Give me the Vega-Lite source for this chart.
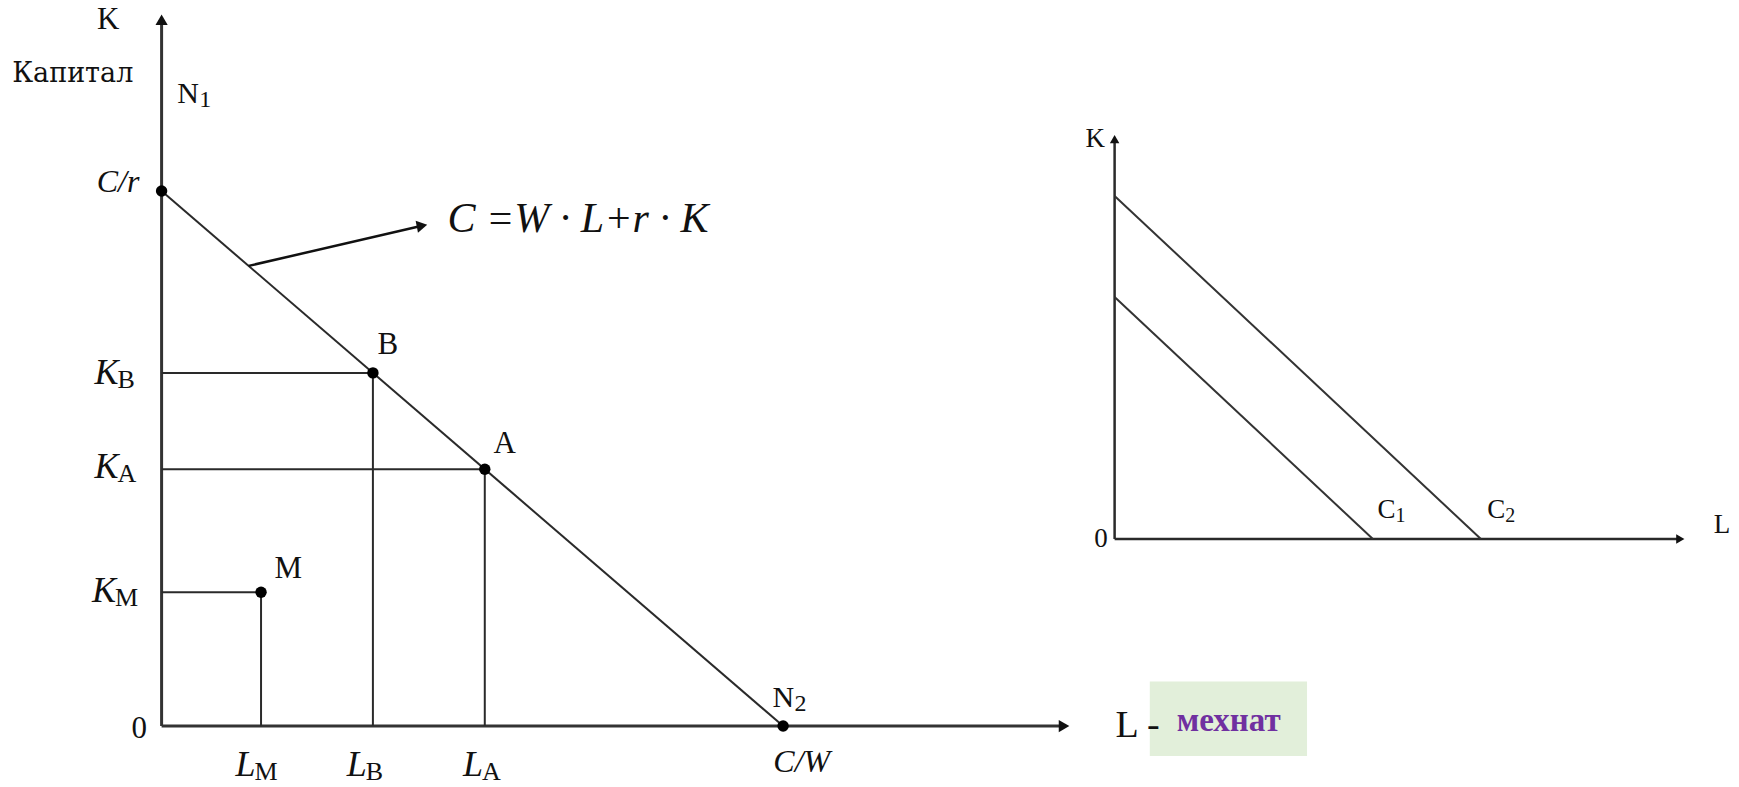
{
  "$schema": "https://vega.github.io/schema/vega-lite/v6.json",
  "autosize": {"type": "fit", "contains": "padding"},
  "width": 1739,
  "height": 787,
  "padding": 0,
  "background": "#ffffff",
  "config": {"view": {"stroke": null}, "axis": {"disable": true}, "text": {"font": "Liberation Serif", "color": "#111111"}},
  "datasets": {
    "box": [{"L": 15.9, "L2": 18.43, "K": -0.56, "K2": 0.83}],
    "leftAxes": [{"L": 0, "K": 0, "L2": 0, "K2": 13.2}, {"L": 0, "K": 0, "L2": 14.52, "K2": 0}],
    "leftLines": [
      {"L": 0, "K": 10, "L2": 10, "K2": 0},
      {"L": 0, "K": 6.6, "L2": 3.4, "K2": 6.6},
      {"L": 3.4, "K": 6.6, "L2": 3.4, "K2": 0},
      {"L": 0, "K": 4.8, "L2": 5.2, "K2": 4.8},
      {"L": 5.2, "K": 4.8, "L2": 5.2, "K2": 0},
      {"L": 0, "K": 2.5, "L2": 1.6, "K2": 2.5},
      {"L": 1.6, "K": 2.5, "L2": 1.6, "K2": 0}
    ],
    "pointer": [{"L": 1.4, "K": 8.6, "L2": 4.19, "K2": 9.35}],
    "yTip": [{"L": 0, "K": 13.2}],
    "xTip": [{"L": 14.52, "K": 0}],
    "pTip": [{"L": 4.19, "K": 9.35}],
    "leftPoints": [
      {"name": "C/r", "L": 0, "K": 10},
      {"name": "B", "L": 3.4, "K": 6.6},
      {"name": "A", "L": 5.2, "K": 4.8},
      {"name": "M", "L": 1.6, "K": 2.5},
      {"name": "N2", "L": 10, "K": 0}
    ],
    "kLabels": [
      {"base": "K", "sub": "B", "L": -1.08, "K": 6.6},
      {"base": "K", "sub": "A", "L": -1.08, "K": 4.84},
      {"base": "K", "sub": "M", "L": -1.12, "K": 2.52}
    ],
    "lLabels": [
      {"base": "L", "sub": "M", "L": 1.19, "K": -0.72},
      {"base": "L", "sub": "B", "L": 2.98, "K": -0.72},
      {"base": "L", "sub": "A", "L": 4.85, "K": -0.72}
    ],
    "nLabels": [
      {"base": "N", "sub": "1", "L": 0.25, "K": 11.82},
      {"base": "N", "sub": "2", "L": 9.83, "K": 0.52}
    ],
    "plainLabels": [
      {"text": "K", "L": -0.86, "K": 13.2},
      {"text": "0", "L": -0.36, "K": -0.05},
      {"text": "B", "L": 3.64, "K": 7.12},
      {"text": "A", "L": 5.52, "K": 5.27},
      {"text": "M", "L": 2.04, "K": 2.93}
    ],
    "italicLabels": [
      {"text": "C/r", "L": -0.7, "K": 10.16},
      {"text": "C/W", "L": 10.3, "K": -0.68}
    ],
    "kapital": [{"text": "Капитал", "L": -1.43, "K": 12.19}],
    "lAxisLabel": [{"text": "L -", "L": 15.35, "K": 0}],
    "mehnat": [{"text": "мехнат", "L": 17.17, "K": 0.1}],
    "formula": [{"text": "C =W · L+r · K", "L": 4.6, "K": 9.47}],
    "rightAxes": [{"L": 0, "K": 0, "L2": 0, "K2": 9.85}, {"L": 0, "K": 0, "L2": 9.9, "K2": 0}],
    "rightLines": [
      {"cost": "C1", "L": 0, "K": 5.96, "L2": 4.52, "K2": 0},
      {"cost": "C2", "L": 0, "K": 8.45, "L2": 6.41, "K2": 0}
    ],
    "rYTip": [{"L": 0, "K": 9.85}],
    "rXTip": [{"L": 9.9, "K": 0}],
    "rightPlain": [
      {"text": "K", "L": -0.34, "K": 9.85},
      {"text": "0", "L": -0.24, "K": 0},
      {"text": "L", "L": 10.63, "K": 0.34}
    ],
    "rightC": [
      {"base": "C", "sub": "1", "L": 4.6, "K": 0.71},
      {"base": "C", "sub": "2", "L": 6.52, "K": 0.71}
    ]
  },
  "resolve": {"scale": {"x": "independent", "y": "independent"}},
  "layer": [
    {
      "encoding": {
        "x": {"field": "L", "type": "quantitative", "scale": {"domain": [-2.6, 25.38], "nice": false, "zero": false}},
        "y": {"field": "K", "type": "quantitative", "scale": {"domain": [-1.14, 13.57], "nice": false, "zero": false}}
      },
      "layer": [
        {"data": {"name": "box"}, "mark": {"type": "rect", "color": "#e2efda"},
         "encoding": {"x2": {"field": "L2"}, "y2": {"field": "K2"}}},
        {"data": {"name": "leftAxes"}, "mark": {"type": "rule", "stroke": "#333333", "strokeWidth": 3},
         "encoding": {"x2": {"field": "L2"}, "y2": {"field": "K2"}}},
        {"data": {"name": "leftLines"}, "mark": {"type": "rule", "stroke": "#2a2a2a", "strokeWidth": 2},
         "encoding": {"x2": {"field": "L2"}, "y2": {"field": "K2"}}},
        {"data": {"name": "pointer"}, "mark": {"type": "rule", "stroke": "#111111", "strokeWidth": 2.5},
         "encoding": {"x2": {"field": "L2"}, "y2": {"field": "K2"}}},
        {"data": {"name": "yTip"}, "mark": {"type": "point", "shape": "triangle-up", "filled": true, "color": "#111111", "size": 150, "opacity": 1}},
        {"data": {"name": "xTip"}, "mark": {"type": "point", "shape": "triangle-right", "filled": true, "color": "#111111", "size": 150, "opacity": 1}},
        {"data": {"name": "pTip"}, "mark": {"type": "point", "shape": "triangle-right", "filled": true, "color": "#111111", "size": 150, "angle": 349, "opacity": 1}},
        {"data": {"name": "leftPoints"}, "mark": {"type": "point", "shape": "circle", "filled": true, "color": "#000000", "size": 130, "opacity": 1}},
        {"data": {"name": "kLabels"}, "mark": {"type": "text", "align": "left", "baseline": "middle", "fontSize": 36, "fontStyle": "italic"},
         "encoding": {"text": {"field": "base"}}},
        {"data": {"name": "kLabels"}, "mark": {"type": "text", "align": "left", "baseline": "middle", "fontSize": 26, "dx": 23, "dy": 7},
         "encoding": {"text": {"field": "sub"}}},
        {"data": {"name": "lLabels"}, "mark": {"type": "text", "align": "left", "baseline": "middle", "fontSize": 36, "fontStyle": "italic"},
         "encoding": {"text": {"field": "base"}}},
        {"data": {"name": "lLabels"}, "mark": {"type": "text", "align": "left", "baseline": "middle", "fontSize": 26, "dx": 19, "dy": 7},
         "encoding": {"text": {"field": "sub"}}},
        {"data": {"name": "nLabels"}, "mark": {"type": "text", "align": "left", "baseline": "middle", "fontSize": 30},
         "encoding": {"text": {"field": "base"}}},
        {"data": {"name": "nLabels"}, "mark": {"type": "text", "align": "left", "baseline": "middle", "fontSize": 24, "dx": 22, "dy": 6},
         "encoding": {"text": {"field": "sub"}}},
        {"data": {"name": "plainLabels"}, "mark": {"type": "text", "align": "center", "baseline": "middle", "fontSize": 31},
         "encoding": {"text": {"field": "text"}}},
        {"data": {"name": "italicLabels"}, "mark": {"type": "text", "align": "center", "baseline": "middle", "fontSize": 32, "fontStyle": "italic"},
         "encoding": {"text": {"field": "text"}}},
        {"data": {"name": "kapital"}, "mark": {"type": "text", "align": "center", "baseline": "middle", "fontSize": 27, "font": "DejaVu Serif"},
         "encoding": {"text": {"field": "text"}}},
        {"data": {"name": "lAxisLabel"}, "mark": {"type": "text", "align": "left", "baseline": "middle", "fontSize": 38},
         "encoding": {"text": {"field": "text"}}},
        {"data": {"name": "mehnat"}, "mark": {"type": "text", "align": "center", "baseline": "middle", "fontSize": 33, "fontWeight": "bold", "color": "#7030a0"},
         "encoding": {"text": {"field": "text"}}},
        {"data": {"name": "formula"}, "mark": {"type": "text", "align": "left", "baseline": "middle", "fontSize": 42, "fontStyle": "italic"},
         "encoding": {"text": {"field": "text"}}}
      ]
    },
    {
      "encoding": {
        "x": {"field": "L", "type": "quantitative", "scale": {"domain": [-19.506, 10.927], "nice": false, "zero": false}},
        "y": {"field": "K", "type": "quantitative", "scale": {"domain": [-6.108, 13.276], "nice": false, "zero": false}}
      },
      "layer": [
        {"data": {"name": "rightAxes"}, "mark": {"type": "rule", "stroke": "#2a2a2a", "strokeWidth": 2.5},
         "encoding": {"x2": {"field": "L2"}, "y2": {"field": "K2"}}},
        {"data": {"name": "rightLines"}, "mark": {"type": "rule", "stroke": "#333333", "strokeWidth": 2},
         "encoding": {"x2": {"field": "L2"}, "y2": {"field": "K2"}}},
        {"data": {"name": "rYTip"}, "mark": {"type": "point", "shape": "triangle-up", "filled": true, "color": "#111111", "size": 90, "opacity": 1}},
        {"data": {"name": "rXTip"}, "mark": {"type": "point", "shape": "triangle-right", "filled": true, "color": "#111111", "size": 90, "opacity": 1}},
        {"data": {"name": "rightPlain"}, "mark": {"type": "text", "align": "center", "baseline": "middle", "fontSize": 27},
         "encoding": {"text": {"field": "text"}}},
        {"data": {"name": "rightC"}, "mark": {"type": "text", "align": "left", "baseline": "middle", "fontSize": 27},
         "encoding": {"text": {"field": "base"}}},
        {"data": {"name": "rightC"}, "mark": {"type": "text", "align": "left", "baseline": "middle", "fontSize": 20, "dx": 18, "dy": 6},
         "encoding": {"text": {"field": "sub"}}}
      ]
    }
  ]
}
